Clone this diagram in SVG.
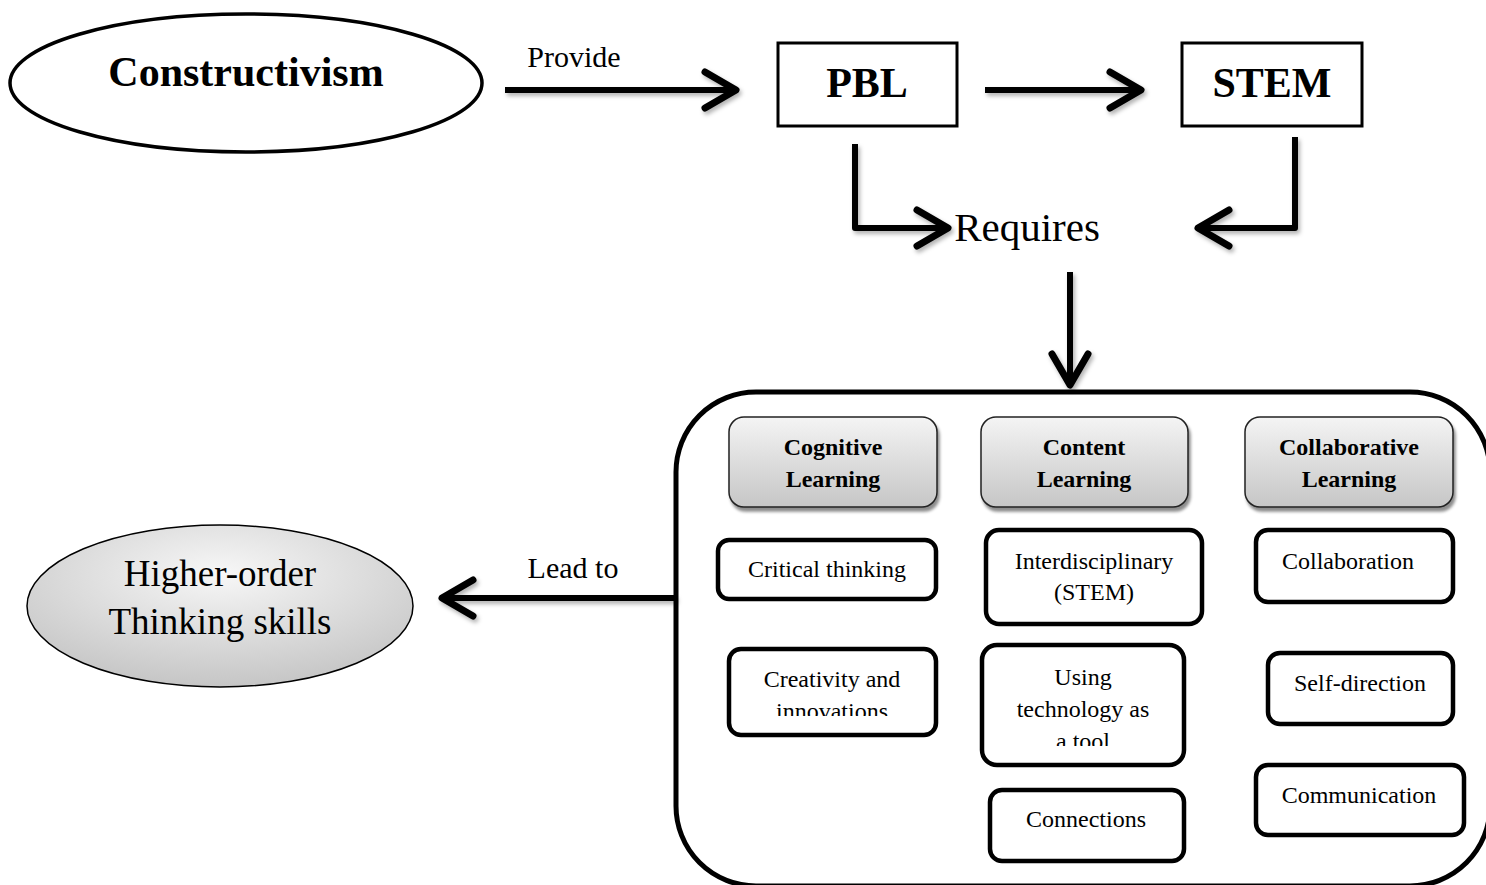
<svg xmlns="http://www.w3.org/2000/svg" width="1486" height="885" viewBox="0 0 1486 885">
<style>
text{font-family:"Liberation Serif","Times New Roman",serif;fill:#000}
.big{font-size:42px;font-weight:bold}
.lbl{font-size:30px}
.hdr{font-size:24px;font-weight:bold}
.item{font-size:24px}
.conn{fill:none;stroke:#000;stroke-width:6;stroke-linejoin:round}
.box{fill:#fff;stroke:#000;stroke-width:3}
.ibox{fill:#fff;stroke:#000;stroke-width:4.5}
.hbox{fill:url(#hg);stroke:#222;stroke-width:1.5;filter:url(#hs)}
</style>
<defs>
<linearGradient id="hg" x1="0" y1="0" x2="0" y2="1">
<stop offset="0" stop-color="#f4f4f4"/>
<stop offset="1" stop-color="#c6c6c6"/>
</linearGradient>
<radialGradient id="eg" cx="0.5" cy="0.3" r="0.75">
<stop offset="0" stop-color="#f7f7f7"/>
<stop offset="1" stop-color="#c2c2c2"/>
</radialGradient>
<filter id="sh" filterUnits="userSpaceOnUse" x="0" y="0" width="1486" height="885">
<feDropShadow dx="2" dy="3" stdDeviation="2" flood-color="#000" flood-opacity="0.3"/>
</filter>
<filter id="hs" x="-10%" y="-10%" width="130%" height="140%">
<feDropShadow dx="2" dy="4" stdDeviation="1.5" flood-color="#000" flood-opacity="0.45"/>
</filter>
<marker id="ah" markerUnits="userSpaceOnUse" viewBox="-45 -30 55 60" markerWidth="55" markerHeight="60" refX="0" refY="0" orient="auto" overflow="visible">
<path d="M -31 -18 L 0 0 L -31 18" fill="none" stroke="#000" stroke-width="7" stroke-linecap="round" stroke-linejoin="round"/>
</marker>
<clipPath id="c1"><rect x="729" y="649" width="207" height="67"/></clipPath>
<clipPath id="c2"><rect x="982" y="645" width="202" height="101"/></clipPath>
</defs>

<g id="connectors" filter="url(#sh)">
<path class="conn" d="M 505 90 L 736 90" marker-end="url(#ah)"/>
<path class="conn" d="M 985 90 L 1141 90" marker-end="url(#ah)"/>
<path class="conn" d="M 855 144 L 855 228 L 948 228" marker-end="url(#ah)"/>
<path class="conn" d="M 1295 137 L 1295 228 L 1198 228" marker-end="url(#ah)"/>
<path class="conn" d="M 1070 272 L 1070 385" marker-end="url(#ah)"/>
<path class="conn" d="M 676 598 L 442 598" marker-end="url(#ah)"/>
</g>
<g id="connector-labels">
<text class="lbl" x="574" y="67" text-anchor="middle">Provide</text>
<text class="lbl" x="573" y="578" text-anchor="middle">Lead to</text>
</g>

<g id="constructivism">
<ellipse cx="246" cy="83" rx="236" ry="69" fill="#fff" stroke="#000" stroke-width="3.5"/>
<text class="big" x="246" y="86" text-anchor="middle">Constructivism</text>
</g>

<g id="pbl">
<rect class="box" x="778" y="43" width="179" height="83"/>
<text class="big" x="867" y="97" text-anchor="middle">PBL</text>
</g>

<g id="stem">
<rect class="box" x="1182" y="43" width="180" height="83"/>
<text class="big" x="1272" y="97" text-anchor="middle">STEM</text>
</g>

<g id="requires">
<text x="1027" y="241" text-anchor="middle" style="font-size:41px">Requires</text>
</g>

<g id="container">
<rect x="676" y="392" width="814" height="494" rx="80" ry="80" fill="none" stroke="#000" stroke-width="5"/>
</g>

<g id="cognitive-learning">
<rect class="hbox" x="729" y="417" width="208" height="90" rx="15"/>
<text class="hdr" x="833" y="455" text-anchor="middle">Cognitive</text>
<text class="hdr" x="833" y="487" text-anchor="middle">Learning</text>
</g>

<g id="content-learning">
<rect class="hbox" x="981" y="417" width="207" height="90" rx="15"/>
<text class="hdr" x="1084" y="455" text-anchor="middle">Content</text>
<text class="hdr" x="1084" y="487" text-anchor="middle">Learning</text>
</g>

<g id="collaborative-learning">
<rect class="hbox" x="1245" y="417" width="208" height="90" rx="15"/>
<text class="hdr" x="1349" y="455" text-anchor="middle">Collaborative</text>
<text class="hdr" x="1349" y="487" text-anchor="middle">Learning</text>
</g>

<g id="critical-thinking">
<rect class="ibox" x="718" y="540" width="218" height="59" rx="11"/>
<text class="item" x="827" y="577" text-anchor="middle">Critical thinking</text>
</g>

<g id="creativity">
<rect class="ibox" x="729" y="649" width="207" height="86" rx="12"/>
<g clip-path="url(#c1)">
<text class="item" x="832" y="687" text-anchor="middle">Creativity and</text>
<text class="item" x="832" y="719" text-anchor="middle">innovations</text>
</g>
</g>

<g id="interdisciplinary">
<rect class="ibox" x="986" y="530" width="216" height="94" rx="13"/>
<text class="item" x="1094" y="569" text-anchor="middle">Interdisciplinary</text>
<text class="item" x="1094" y="600" text-anchor="middle">(STEM)</text>
</g>

<g id="using-technology">
<rect class="ibox" x="982" y="645" width="202" height="120" rx="15"/>
<g clip-path="url(#c2)">
<text class="item" x="1083" y="685" text-anchor="middle">Using</text>
<text class="item" x="1083" y="717" text-anchor="middle">technology as</text>
<text class="item" x="1083" y="749" text-anchor="middle">a tool</text>
</g>
</g>

<g id="connections">
<rect class="ibox" x="990" y="790" width="194" height="71" rx="12"/>
<text class="item" x="1086" y="827" text-anchor="middle">Connections</text>
</g>

<g id="collaboration">
<rect class="ibox" x="1256" y="530" width="197" height="72" rx="12"/>
<text class="item" x="1348" y="569" text-anchor="middle">Collaboration</text>
</g>

<g id="self-direction">
<rect class="ibox" x="1268" y="653" width="185" height="71" rx="12"/>
<text class="item" x="1360" y="691" text-anchor="middle">Self-direction</text>
</g>

<g id="communication">
<rect class="ibox" x="1256" y="765" width="208" height="70" rx="12"/>
<text class="item" x="1359" y="803" text-anchor="middle">Communication</text>
</g>

<g id="higher-order">
<ellipse cx="220" cy="606" rx="193" ry="81" fill="url(#eg)" stroke="#000" stroke-width="1.5"/>
<text x="220" y="586" text-anchor="middle" style="font-size:37px">Higher-order</text>
<text x="220" y="634" text-anchor="middle" style="font-size:37px">Thinking skills</text>
</g>
</svg>
